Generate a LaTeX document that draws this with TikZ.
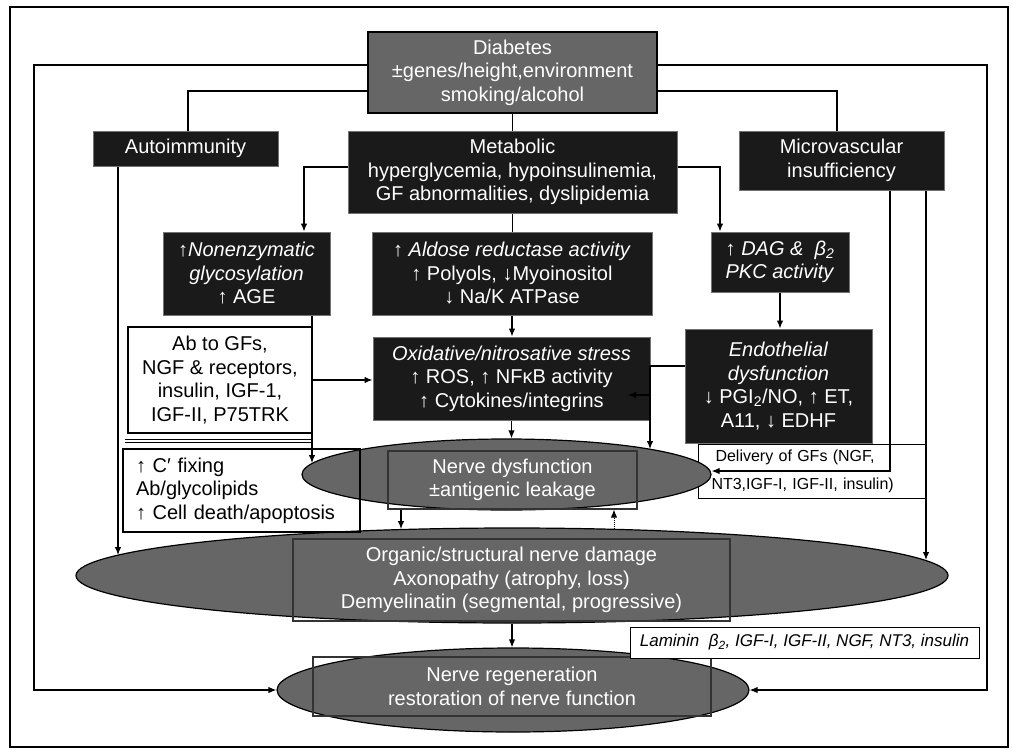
\documentclass[tikz,border=0pt]{standalone}
\usepackage{fontspec}
\setmainfont{Liberation Sans}
\usetikzlibrary{arrows.meta,shapes.geometric}
\definecolor{boxblack}{HTML}{1A1A1A}
\definecolor{midgray}{HTML}{666666}
\begin{document}
\begin{tikzpicture}[x=1pt,y=-1pt,
  every node/.style={font=\fontsize{20}{23.5}\selectfont, inner sep=0pt, align=center},
  blk/.style={draw=black!55, line width=1pt, fill=boxblack, text=white},
  gbox/.style={draw=black, line width=1.2pt, fill=midgray, text=white},
  wbox/.style={draw=black, line width=1.2pt, fill=white, text=black},
  ell/.style={ellipse, draw=black, line width=1.2pt, fill=midgray},
  irect/.style={draw=black!80, line width=1.2pt, text=white},
  ln/.style={line width=1.2pt, draw=black},
  arr/.style={ln, -{Latex[length=8pt,width=6.5pt]}},
]
\useasboundingbox (0,0) rectangle (1013,750);
\draw[line width=1.5pt] (10,7) rectangle (1008,747);

% boxes
\node[gbox, minimum width=289pt, minimum height=81pt] (diab) at (512.5,72.5) {Diabetes\\±genes/height,environment\\smoking/alcohol};
\node[blk, minimum width=185pt, minimum height=35pt] (auto) at (185.5,148.5) {Autoimmunity};
\node[blk, minimum width=329pt, minimum height=82pt] (meta) at (512.5,172) {Metabolic\\hyperglycemia, hypoinsulinemia,\\GF abnormalities, dyslipidemia};
\node[blk, minimum width=205pt, minimum height=59pt] (micro) at (841.5,160.5) {Microvascular\\insufficiency};
\node[blk, minimum width=167pt, minimum height=83pt] (nonenz) at (246.5,273.5) {↑\textit{Nonenzymatic}\\\textit{glycosylation}\\↑ AGE};
\node[blk, minimum width=280pt, minimum height=83pt] (aldose) at (512,273.5) {↑ \textit{Aldose reductase activity}\\↑ Polyols, ↓Myoinositol\\↓ Na/K ATPase};
\node[blk, minimum width=138pt, minimum height=60pt] (dag) at (780,262) {↑ \textit{DAG \&\ \ β\textsubscript{2}}\\\textit{PKC activity}};
\node[wbox, minimum width=184pt, minimum height=106pt] (ab) at (220,380) {Ab to GFs,\\NGF \& receptors,\\insulin, IGF-1,\\IGF-II, P75TRK};
\node[blk, minimum width=277pt, minimum height=83pt] (oxid) at (511.5,378.5) {\textit{Oxidative/nitrosative stress}\\↑ ROS, ↑ NFκB activity\\↑ Cytokines/integrins};
\node[blk, minimum width=187pt, minimum height=114pt] (endo) at (778.5,386) {\textit{Endothelial}\\\textit{dysfunction}\\↓ PGI\textsubscript{2}/NO, ↑ ET,\\A11, ↓ EDHF};
\node[wbox, line width=1pt, font=\fontsize{16}{28}\selectfont, minimum width=227pt, minimum height=54pt, text width=200pt, align=left] (deliv) at (811.5,471) {\hspace*{4pt}Delivery of GFs (NGF,\\NT3,IGF-I, IGF-II, insulin)};

\draw[line width=1pt] (125,439) -- (312,439);
\draw[line width=1pt] (125,442.5) -- (312,442.5);

% ellipses
\node[ell, minimum width=409pt, minimum height=71pt] (nd) at (506.5,474.5) {};
\node[irect, minimum width=249pt, minimum height=58pt] (ndr) at (512.5,480) {Nerve dysfunction\\±antigenic leakage};
\node[ell, minimum width=872pt, minimum height=95pt] (org) at (512,575.5) {};
\node[irect, minimum width=437pt, minimum height=82pt] (orgr) at (511.5,580) {Organic/structural nerve damage\\Axonopathy (atrophy, loss)\\Demyelinatin (segmental, progressive)};
\node[ell, minimum width=472pt, minimum height=84pt] (regen) at (513,690) {};
\node[irect, minimum width=398pt, minimum height=59pt] (regr) at (512,686.5) {Nerve regeneration\\restoration of nerve function};
\node[draw, line width=1.2pt, minimum width=237pt, minimum height=83pt, text width=211pt, align=left] (cfix) at (241.5,490.5) {↑ C′ fixing\\Ab/glycolipids\\↑ Cell death/apoptosis};
\node[wbox, line width=1pt, font=\fontsize{17}{20}\selectfont\itshape, minimum width=349pt, minimum height=31pt] (lam) at (804.5,642.5) {Laminin\ \ β\textsubscript{2}, IGF-I, IGF-II, NGF, NT3, insulin};

% connectors
\coordinate (lL) at (34,65);
\coordinate (lR) at (987,65);
\draw[arr] (diab.west |- lL) -- (lL) |- (regen.west);
\draw[arr] (diab.east |- lR) -- (lR) |- (regen.east);
\coordinate (dA) at (188,91);
\coordinate (dM) at (837,91);
\draw[ln] (diab.west |- dA) -- (dA) -- (dA |- auto.north);
\draw[ln] (diab.east |- dM) -- (dM) -- (dM |- micro.north);
\draw[ln] (diab.south) -- (diab.south |- meta.north);
\coordinate (mL) at (304,167);
\coordinate (mR) at (720,167);
\draw[arr] (meta.west |- mL) -- (mL) -- (mL |- nonenz.north);
\draw[arr] (meta.east |- mR) -- (mR) -- (mR |- dag.north);
\draw[ln] (meta.south) -- (meta.south |- aldose.north);
\draw[arr] (aldose.south) -- (aldose.south |- oxid.north);
\draw[arr] (dag.south) -- (dag.south |- endo.north);
\draw[arr] (ab.east) -- (ab.east -| oxid.west);
\coordinate (aE) at (118,555);
\draw[arr] (auto.south -| aE) -- (aE);
\coordinate (nE) at (312,463);
\draw[arr] (nonenz.south -| nE) -- (nE);
\draw[arr] (oxid.south) -- (oxid.south |- nd.north);
\coordinate (eJ) at (650,366);
\coordinate (eE) at (650,449);
\coordinate (eO) at (628,395);
\draw[ln] (endo.west |- eJ) -- (eJ);
\draw[arr] (eJ) -- (eE);
\draw[arr] (eJ |- eO) -- (eO);
\coordinate (m1) at (890,471);
\coordinate (m2) at (926,560);
\draw[arr] (micro.south -| m1) -- (m1) -- (m1 -| nd.east);
\draw[arr] (micro.south -| m2) -- (m2);
\coordinate (nO) at (401,529);
\draw[arr] (ndr.south -| nO) -- (nO);
\coordinate (dO) at (614,529);
\draw[arr, line width=1pt, densely dotted] (dO) -- (dO |- ndr.south);
\draw[arr] (org.south) -- (org.south |- regen.north);
\end{tikzpicture}
\end{document}
